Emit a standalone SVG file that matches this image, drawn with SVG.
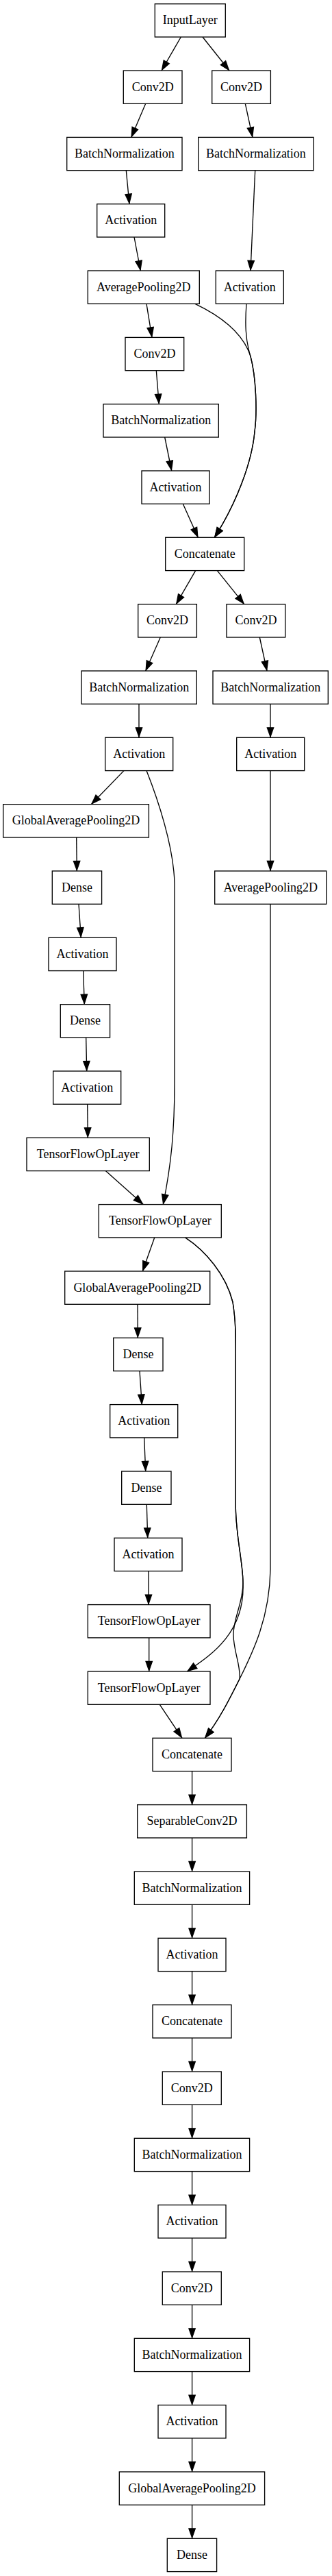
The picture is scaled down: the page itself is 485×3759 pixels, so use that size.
<svg xmlns="http://www.w3.org/2000/svg" width="485" height="3759" viewBox="0 0 485 3759">
<style>
.node rect{fill:#fff;stroke:#000;stroke-width:1.33}
.node text{font-family:"Liberation Serif","Times New Roman",serif;font-size:18px;text-anchor:middle;fill:#000}
.edge path{fill:none;stroke:#000;stroke-width:1.33;marker-end:url(#ah)}
</style>
<defs>
<marker id="ah" markerUnits="userSpaceOnUse" viewBox="-2 -6 18 12" refX="14.5" refY="0" markerWidth="18" markerHeight="12" orient="auto">
<path d="M0,-4.67 L13.3,0 L0,4.67 Z" fill="#000" stroke="#000" stroke-width="1.33"/>
</marker>
</defs>
<rect width="485" height="3759" fill="#fff"/>
<g id="edges" class="edge">
<path d="M264.3,54 L236,103"/>
<path d="M296,54 L335,103"/>
<path d="M212.7,151.3 L191.7,200.4"/>
<path d="M358.3,151.3 L369,200.4"/>
<path d="M184.3,248.7 L189,297.7"/>
<path d="M372.7,248.7 L366,395"/>
<path d="M196,346 L205.3,395"/>
<path d="M214,443.3 L222,492.4"/>
<path d="M285,443.3 C320,460 355,485 366,520 C374,550 376,600 372,630 C368,675 345,735 313.3,784.3"/>
<path d="M360,443.3 C358,470 358,495 366,520 C374,550 376,600 372,630 C368,675 345,735 313.3,784.3"/>
<path d="M228.3,540.7 L232.3,589.7"/>
<path d="M240.7,638 L250.7,687"/>
<path d="M267.3,735.3 L289.3,784.3"/>
<path d="M285.7,832.6 L257.3,881.7"/>
<path d="M317.3,832.6 L356.7,881.7"/>
<path d="M234.3,930 L212.7,979"/>
<path d="M379.3,930 L390,979"/>
<path d="M203,1027.3 L203,1076.3"/>
<path d="M395,1027.3 L395,1076.3"/>
<path d="M181,1124.6 L133.3,1173.7"/>
<path d="M214,1124.6 C230,1165 254,1235 255,1290 L255,1580 C255,1650 250,1700 238.3,1757.6"/>
<path d="M395,1124.6 L395,1271"/>
<path d="M111.7,1222 L112.3,1271"/>
<path d="M115,1319.3 L118.3,1368.3"/>
<path d="M121.7,1416.6 L123.3,1465.7"/>
<path d="M125.7,1514 L126.7,1563"/>
<path d="M127.7,1611.3 L128.3,1660.3"/>
<path d="M154.3,1708.6 L209.3,1757.6"/>
<path d="M395,1319.3 L395,2290 C394,2360 370,2410 350,2450 C335,2480 320,2510 299.3,2536.3"/>
<path d="M225.7,1806 L208.3,1855"/>
<path d="M270.7,1806 C300,1825 330,1860 340,1900 C345,1930 344.3,1960 344.3,1990 L344.3,2200 C345,2245 355,2280 355,2310 C358,2385 305,2417 273.3,2439"/>
<path d="M270.7,1806 C300,1825 330,1860 340,1900 C345,1930 344.3,1960 344.3,1990 L344.3,2200 C345,2245 355,2280 355,2310 C355,2340 341,2360 341,2385 C341,2410 352,2430 350,2450 C335,2480 320,2510 299.3,2536.3"/>
<path d="M201,1903.3 L201.3,1952.3"/>
<path d="M204,2000.6 L207.3,2049.6"/>
<path d="M210.7,2098 L212.7,2147"/>
<path d="M214.3,2195.3 L215.7,2244.3"/>
<path d="M217,2292.6 L217,2341.6"/>
<path d="M217.7,2390 L217.7,2439"/>
<path d="M233.3,2487.3 L266,2536.3"/>
<path d="M280.6,2584.6 L280.6,2633.6"/>
<path d="M280.6,2681.9 L280.6,2731"/>
<path d="M280.6,2779.3 L280.6,2828.3"/>
<path d="M280.6,2876.6 L280.6,2925.6"/>
<path d="M280.6,2973.9 L280.6,3023"/>
<path d="M280.6,3071.3 L280.6,3120.3"/>
<path d="M280.6,3168.6 L280.6,3217.6"/>
<path d="M280.6,3265.9 L280.6,3315"/>
<path d="M280.6,3363.3 L280.6,3412.3"/>
<path d="M280.6,3460.6 L280.6,3509.6"/>
<path d="M280.6,3557.9 L280.6,3607"/>
<path d="M280.6,3655.3 L280.6,3704.3"/>
</g>
<g id="n0" class="node"><rect x="226.3" y="5.7" width="103" height="48.3"/><text x="277.8" y="35.2">InputLayer</text></g>
<g id="n1" class="node"><rect x="180.3" y="103" width="85.7" height="48.3"/><text x="223.2" y="132.5">Conv2D</text></g>
<g id="n2" class="node"><rect x="309.7" y="103" width="85.7" height="48.3"/><text x="352.6" y="132.5">Conv2D</text></g>
<g id="n3" class="node"><rect x="97.7" y="200.4" width="168.3" height="48.3"/><text x="181.9" y="229.9">BatchNormalization</text></g>
<g id="n4" class="node"><rect x="289.7" y="200.4" width="168.3" height="48.3"/><text x="373.9" y="229.9">BatchNormalization</text></g>
<g id="n5" class="node"><rect x="141.7" y="297.7" width="99" height="48.3"/><text x="191.2" y="327.2">Activation</text></g>
<g id="n6" class="node"><rect x="128.3" y="395" width="163" height="48.3"/><text x="209.8" y="424.5">AveragePooling2D</text></g>
<g id="n7" class="node"><rect x="315.3" y="395" width="99" height="48.3"/><text x="364.8" y="424.5">Activation</text></g>
<g id="n8" class="node"><rect x="183" y="492.4" width="85.7" height="48.3"/><text x="225.9" y="521.9">Conv2D</text></g>
<g id="n9" class="node"><rect x="151" y="589.7" width="168.3" height="48.3"/><text x="235.2" y="619.2">BatchNormalization</text></g>
<g id="n10" class="node"><rect x="207" y="687" width="99" height="48.3"/><text x="256.5" y="716.5">Activation</text></g>
<g id="n11" class="node"><rect x="241.7" y="784.3" width="115" height="48.3"/><text x="299.2" y="813.8">Concatenate</text></g>
<g id="n12" class="node"><rect x="201.7" y="881.7" width="85.7" height="48.3"/><text x="244.5" y="911.2">Conv2D</text></g>
<g id="n13" class="node"><rect x="331" y="881.7" width="85.7" height="48.3"/><text x="373.9" y="911.2">Conv2D</text></g>
<g id="n14" class="node"><rect x="119" y="979" width="168.3" height="48.3"/><text x="203.2" y="1008.5">BatchNormalization</text></g>
<g id="n15" class="node"><rect x="311" y="979" width="168.3" height="48.3"/><text x="395.2" y="1008.5">BatchNormalization</text></g>
<g id="n16" class="node"><rect x="153.7" y="1076.3" width="99" height="48.3"/><text x="203.2" y="1105.8">Activation</text></g>
<g id="n17" class="node"><rect x="345.7" y="1076.3" width="99" height="48.3"/><text x="395.2" y="1105.8">Activation</text></g>
<g id="n18" class="node"><rect x="4.7" y="1173.7" width="212.7" height="48.3"/><text x="111" y="1203.2">GlobalAveragePooling2D</text></g>
<g id="n19" class="node"><rect x="76.3" y="1271" width="72.3" height="48.3"/><text x="112.5" y="1300.5">Dense</text></g>
<g id="n20" class="node"><rect x="313.7" y="1271" width="163" height="48.3"/><text x="395.2" y="1300.5">AveragePooling2D</text></g>
<g id="n21" class="node"><rect x="71" y="1368.3" width="99" height="48.3"/><text x="120.5" y="1397.8">Activation</text></g>
<g id="n22" class="node"><rect x="88.3" y="1465.7" width="72.3" height="48.3"/><text x="124.5" y="1495.2">Dense</text></g>
<g id="n23" class="node"><rect x="77.7" y="1563" width="99" height="48.3"/><text x="127.2" y="1592.5">Activation</text></g>
<g id="n24" class="node"><rect x="39" y="1660.3" width="179.3" height="48.3"/><text x="128.7" y="1689.8">TensorFlowOpLayer</text></g>
<g id="n25" class="node"><rect x="144.3" y="1757.6" width="179" height="48.3"/><text x="233.8" y="1787.1">TensorFlowOpLayer</text></g>
<g id="n26" class="node"><rect x="94.7" y="1855" width="212" height="48.3"/><text x="200.7" y="1884.5">GlobalAveragePooling2D</text></g>
<g id="n27" class="node"><rect x="165.7" y="1952.3" width="72.3" height="48.3"/><text x="201.9" y="1981.8">Dense</text></g>
<g id="n28" class="node"><rect x="160.7" y="2049.6" width="99" height="48.3"/><text x="210.2" y="2079.1">Activation</text></g>
<g id="n29" class="node"><rect x="177.7" y="2147" width="72.3" height="48.3"/><text x="213.9" y="2176.5">Dense</text></g>
<g id="n30" class="node"><rect x="167" y="2244.3" width="99" height="48.3"/><text x="216.5" y="2273.8">Activation</text></g>
<g id="n31" class="node"><rect x="128.3" y="2341.6" width="178.7" height="48.3"/><text x="217.7" y="2371.1">TensorFlowOpLayer</text></g>
<g id="n32" class="node"><rect x="128.3" y="2439" width="178.7" height="48.3"/><text x="217.7" y="2468.5">TensorFlowOpLayer</text></g>
<g id="n33" class="node"><rect x="223" y="2536.3" width="115" height="48.3"/><text x="280.5" y="2565.8">Concatenate</text></g>
<g id="n34" class="node"><rect x="200.7" y="2633.6" width="159.7" height="48.3"/><text x="280.6" y="2663.1">SeparableConv2D</text></g>
<g id="n35" class="node"><rect x="196.3" y="2731" width="168.3" height="48.3"/><text x="280.5" y="2760.5">BatchNormalization</text></g>
<g id="n36" class="node"><rect x="231" y="2828.3" width="99" height="48.3"/><text x="280.5" y="2857.8">Activation</text></g>
<g id="n37" class="node"><rect x="223" y="2925.6" width="115" height="48.3"/><text x="280.5" y="2955.1">Concatenate</text></g>
<g id="n38" class="node"><rect x="237.3" y="3023" width="86" height="48.3"/><text x="280.3" y="3052.5">Conv2D</text></g>
<g id="n39" class="node"><rect x="196.3" y="3120.3" width="168.3" height="48.3"/><text x="280.5" y="3149.8">BatchNormalization</text></g>
<g id="n40" class="node"><rect x="231" y="3217.6" width="99" height="48.3"/><text x="280.5" y="3247.1">Activation</text></g>
<g id="n41" class="node"><rect x="237.3" y="3315" width="86" height="48.3"/><text x="280.3" y="3344.5">Conv2D</text></g>
<g id="n42" class="node"><rect x="196.3" y="3412.3" width="168.3" height="48.3"/><text x="280.5" y="3441.8">BatchNormalization</text></g>
<g id="n43" class="node"><rect x="231" y="3509.6" width="99" height="48.3"/><text x="280.5" y="3539.1">Activation</text></g>
<g id="n44" class="node"><rect x="174.3" y="3607" width="212.3" height="48.3"/><text x="280.5" y="3636.5">GlobalAveragePooling2D</text></g>
<g id="n45" class="node"><rect x="244.3" y="3704.3" width="72.3" height="48.3"/><text x="280.5" y="3733.8">Dense</text></g>
</svg>
